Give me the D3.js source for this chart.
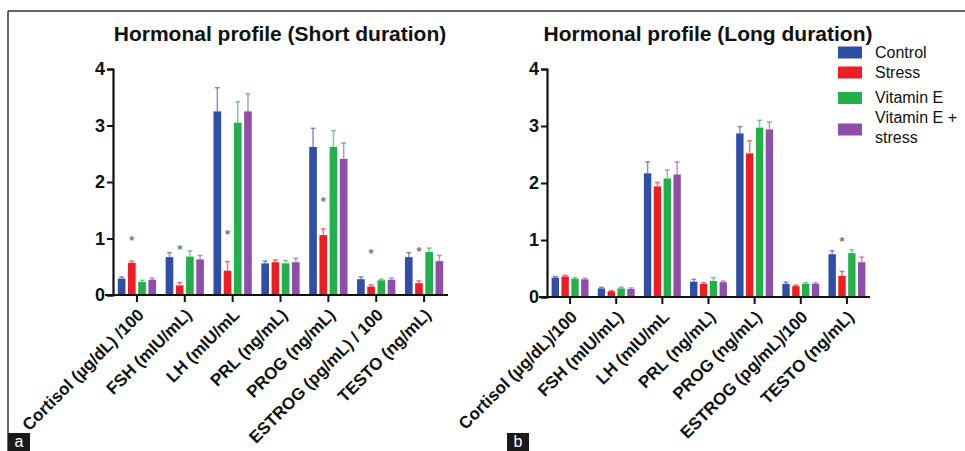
<!DOCTYPE html>
<html>
<head>
<meta charset="utf-8">
<script src="https://cdn.jsdelivr.net/npm/d3@7"></script>
<style>
  html, body { margin: 0; padding: 0; background: #fff; }
  svg { display: block; font-family: "Liberation Sans", Arial, sans-serif; }
</style>
</head>
<body>
<svg id="fig" width="965" height="451"></svg>
<script>
// ---- data ----
const seriesNames = ["Control", "Stress", "Vitamin E", "Vitamin E + stress"];
const seriesColors = ["#2f4ea6", "#ee1d24", "#22b04b", "#8f4fa9"];

const shortCategories = ["Cortisol (µg/dL) /100", "FSH (mIU/mL)", "LH (mIU/mL", "PRL (ng/mL)",
  "PROG (ng/mL)", "ESTROG (pg/mL) / 100", "TESTO (ng/mL)"];
const longCategories = ["Cortisol (µg/dL)/100", "FSH (mIU/mL)", "LH (mIU/mL", "PRL (ng/mL)",
  "PROG (ng/mL)", "ESTROG (pg/mL)/100", "TESTO (ng/mL)"];

// short duration: means and upper error (SEM)
const shortControl   = [0.29, 0.67, 3.25, 0.56, 2.62, 0.28, 0.67];
const shortStress    = [0.57, 0.17, 0.43, 0.58, 1.06, 0.15, 0.21];
const shortVitE      = [0.23, 0.68, 3.05, 0.56, 2.62, 0.26, 0.76];
const shortVitEStress= [0.27, 0.63, 3.25, 0.58, 2.41, 0.27, 0.60];
const shortControlErr   = [0.03, 0.08, 0.42, 0.04, 0.33, 0.04, 0.08];
const shortStressErr    = [0.03, 0.05, 0.16, 0.04, 0.11, 0.03, 0.04];
const shortVitEErr      = [0.03, 0.10, 0.37, 0.05, 0.29, 0.02, 0.07];
const shortVitEStressErr= [0.03, 0.07, 0.31, 0.07, 0.28, 0.03, 0.10];
// significance marks: [category index, value height]
const shortStars = [[0, 1.0], [1, 0.83], [2, 1.1], [4, 1.68], [5, 0.76], [6, 0.8]];

// long duration
const longControl    = [0.34, 0.15, 2.17, 0.27, 2.87, 0.23, 0.75];
const longStress     = [0.36, 0.10, 1.94, 0.23, 2.52, 0.19, 0.37];
const longVitE       = [0.32, 0.15, 2.08, 0.28, 2.97, 0.23, 0.77];
const longVitEStress = [0.31, 0.14, 2.15, 0.26, 2.94, 0.23, 0.61];
const longControlErr    = [0.02, 0.02, 0.20, 0.04, 0.12, 0.03, 0.06];
const longStressErr     = [0.02, 0.01, 0.07, 0.02, 0.22, 0.02, 0.08];
const longVitEErr       = [0.02, 0.02, 0.15, 0.06, 0.13, 0.02, 0.06];
const longVitEStressErr = [0.02, 0.02, 0.22, 0.02, 0.13, 0.02, 0.09];
const longStars = [[6, 1.0]];

const yTicks = [0, 1, 2, 3, 4];

// ---- drawing ----
const svg = d3.select("#fig");

// figure frame (top and left rules)
svg.append("line").attr("x1", 8).attr("x2", 965).attr("y1", 11).attr("y2", 11)
  .attr("stroke", "#333").attr("stroke-width", 1.5);
svg.append("line").attr("x1", 8).attr("x2", 8).attr("y1", 11).attr("y2", 451)
  .attr("stroke", "#333").attr("stroke-width", 1.5);

function panel(opts) {
  const g = svg.append("g");
  const x0 = d3.scaleBand().domain(opts.categories).range([opts.left, opts.right]);
  const x1 = d3.scaleBand().domain(seriesNames)
    .range([x0.bandwidth() * 0.1, x0.bandwidth() * 0.9]).paddingInner(0.25);
  const y = d3.scaleLinear().domain([0, 4]).range([opts.bottom, opts.top]);

  const values = [opts.c, opts.s, opts.v, opts.vs];
  const errs = [opts.ce, opts.se, opts.ve, opts.vse];

  // bars with upward error bars
  seriesNames.forEach((name, si) => {
    const col = seriesColors[si];
    const rows = opts.categories.map((cat, ci) => ({cat, v: values[si][ci], e: errs[si][ci]}));
    const sg = g.append("g");
    sg.selectAll("line.err").data(rows).join("line")
      .attr("x1", d => x0(d.cat) + x1(name) + x1.bandwidth() / 2)
      .attr("x2", d => x0(d.cat) + x1(name) + x1.bandwidth() / 2)
      .attr("y1", d => y(d.v)).attr("y2", d => y(d.v + d.e))
      .attr("stroke", col).attr("stroke-opacity", 0.6).attr("stroke-width", 1.5);
    sg.selectAll("line.cap").data(rows).join("line")
      .attr("x1", d => x0(d.cat) + x1(name) + x1.bandwidth() / 2 - 2.5)
      .attr("x2", d => x0(d.cat) + x1(name) + x1.bandwidth() / 2 + 2.5)
      .attr("y1", d => y(d.v + d.e)).attr("y2", d => y(d.v + d.e))
      .attr("stroke", col).attr("stroke-opacity", 0.6).attr("stroke-width", 1.5);
    sg.selectAll("rect").data(rows).join("rect")
      .attr("x", d => x0(d.cat) + x1(name))
      .attr("width", x1.bandwidth())
      .attr("y", d => y(d.v))
      .attr("height", d => y(0) - y(d.v))
      .attr("fill", col);
  });

  // significance marks above the stress bars
  g.selectAll("text.star").data(opts.stars).join("text")
    .attr("x", d => x0(opts.categories[d[0]]) + x1("Stress") + x1.bandwidth() / 2)
    .attr("y", d => y(d[1]) + 6)
    .attr("text-anchor", "middle")
    .attr("font-size", 13).attr("font-weight", "bold").attr("fill", "#777")
    .text("*");

  // y axis
  const ya = g.append("g").attr("transform", `translate(${opts.left},0)`)
    .call(d3.axisLeft(y).tickValues(yTicks).tickFormat(d3.format("d")).tickSize(6).tickPadding(2));
  ya.select(".domain").attr("stroke", "#111").attr("stroke-width", 2.2);
  ya.selectAll(".tick line").attr("stroke", "#111").attr("stroke-width", 2);
  ya.selectAll(".tick text").attr("font-size", 18).attr("font-weight", "bold")
    .attr("fill", "#111").attr("font-family", "Liberation Sans, Arial, sans-serif");

  // x axis
  const xa = g.append("g").attr("transform", `translate(0,${opts.bottom})`)
    .call(d3.axisBottom(x0).tickSize(7).tickSizeOuter(0));
  xa.select(".domain").attr("stroke", "#111").attr("stroke-width", 2.2)
    .attr("d", `M${opts.left - 8},0H${opts.right}`);
  xa.selectAll(".tick line").attr("stroke", "#111").attr("stroke-width", 2);
  xa.selectAll(".tick text")
    .attr("font-size", 17).attr("font-weight", "bold").attr("fill", "#111")
    .attr("font-family", "Liberation Sans, Arial, sans-serif")
    .attr("text-anchor", "end")
    .attr("dy", 0).attr("y", 0)
    .attr("transform", "translate(8,21) rotate(-45)");

  // title
  g.append("text").attr("x", opts.titleX).attr("y", 41)
    .attr("text-anchor", "middle").attr("font-size", 21).attr("font-weight", "bold")
    .attr("fill", "#111").text(opts.title);

  // panel letter
  g.append("rect").attr("x", opts.letterX).attr("y", 433).attr("width", 22).attr("height", 18)
    .attr("fill", "#1a1a1a");
  g.append("text").attr("x", opts.letterX + 11).attr("y", 447)
    .attr("text-anchor", "middle").attr("font-size", 16).attr("fill", "#fff").text(opts.letter);
}

panel({
  categories: shortCategories, left: 113, right: 448, top: 69, bottom: 295,
  c: shortControl, s: shortStress, v: shortVitE, vs: shortVitEStress,
  ce: shortControlErr, se: shortStressErr, ve: shortVitEErr, vse: shortVitEStressErr,
  stars: shortStars, title: "Hormonal profile (Short duration)", titleX: 280,
  letter: "a", letterX: 8
});

panel({
  categories: longCategories, left: 547, right: 870, top: 69, bottom: 297,
  c: longControl, s: longStress, v: longVitE, vs: longVitEStress,
  ce: longControlErr, se: longStressErr, ve: longVitEErr, vse: longVitEStressErr,
  stars: longStars, title: "Hormonal profile (Long duration)", titleX: 708,
  letter: "b", letterX: 507
});

// legend
const legendRows = [
  {i: 0, sy: 46.5, lines: ["Control"], ty: [58]},
  {i: 1, sy: 66.5, lines: ["Stress"], ty: [78]},
  {i: 2, sy: 92, lines: ["Vitamin E"], ty: [103]},
  {i: 3, sy: 123.5, lines: ["Vitamin E +", "stress"], ty: [123, 143]}
];
const lg = svg.append("g");
legendRows.forEach(r => {
  lg.append("rect").attr("x", 838).attr("y", r.sy).attr("width", 24).attr("height", 12)
    .attr("fill", seriesColors[r.i]);
  r.lines.forEach((t, k) => {
    lg.append("text").attr("x", 875).attr("y", r.ty[k]).attr("font-size", 16)
      .attr("fill", "#111").text(t);
  });
});
</script>
</body>
</html>
